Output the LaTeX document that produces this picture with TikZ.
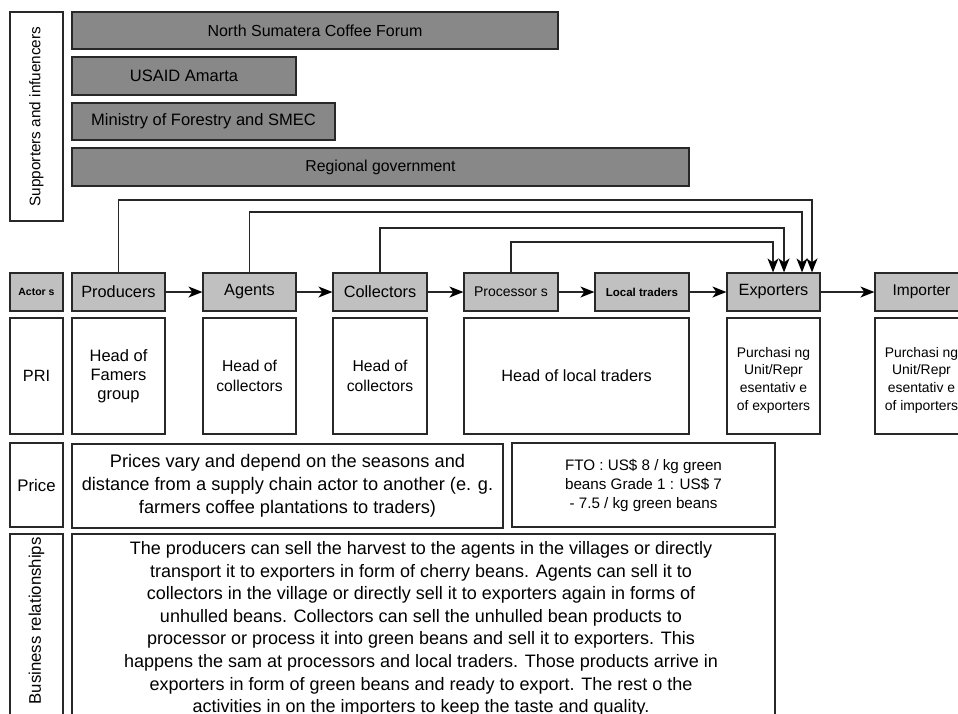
\documentclass[tikz,border=0pt]{standalone}
\usepackage{fontspec}
\setmainfont{Liberation Sans}
\usetikzlibrary{arrows.meta,calc}
\definecolor{supportfill}{RGB}{136,136,136}
\definecolor{actorfill}{RGB}{192,192,192}
\definecolor{edge}{RGB}{40,40,40}
\begin{document}
\begin{tikzpicture}[x=1pt,y=-1pt,
  box/.style={draw=edge,line width=1.2pt,inner sep=2pt,align=center,font=\fontsize{16.3}{19}\selectfont},
  support/.style={box,fill=supportfill},
  actor/.style={box,fill=actorfill,minimum height=38pt},
  plain/.style={box,fill=white},
  flow/.style={draw=black!85,line width=1.3pt,-{Stealth[length=14pt,width=11pt,inset=4pt,color=black]}}]
\useasboundingbox (0,0) rectangle (958,713);
\clip (0,0) rectangle (958,713);
\fill[white] (0,0) rectangle (958,713);

% supporters and influencers
\node[plain,minimum width=53pt,minimum height=209pt] (suplab) at (36.5,116.5) {};
\node[rotate=90,font=\fontsize{15.3}{18}\selectfont] at (suplab.center) {Supporters and infuencers};
\node[support,minimum width=486pt,minimum height=37pt,font=\fontsize{16}{19}\selectfont] (nscf) at (315,30.5) {North Sumatera Coffee Forum};
\node[support,minimum width=224pt,minimum height=38pt,font=\fontsize{16.5}{19}\selectfont] (usaid) at (184,76) {USAID Amarta};
\node[support,minimum width=263pt,minimum height=37pt,font=\fontsize{16.5}{19}\selectfont] (mof) at (203.5,121.5) {Ministry of Forestry and SMEC};
\node[support,minimum width=617pt,minimum height=38pt,font=\fontsize{15.8}{19}\selectfont] (reg) at (380.5,167) {Regional government};

% actors row
\node[actor,minimum width=53pt,font=\bfseries\fontsize{10.5}{12}\selectfont] (actlab) at (36.5,292) {Actor s};
\node[actor,minimum width=93pt] (prod) at (118.5,292) {Producers};
\node[actor,minimum width=93pt] (agt) at (249.5,292) {Agents};
\node[actor,minimum width=94pt] (col) at (380,292) {Collectors};
\node[actor,minimum width=94pt,font=\fontsize{14}{17}\selectfont] (proc) at (511,292) {Processor s};
\node[actor,minimum width=94pt,font=\bfseries\fontsize{11.5}{13}\selectfont] (loc) at (642,292) {Local traders};
\node[actor,minimum width=93pt] (exp) at (773.5,292) {Exporters};
\node[actor,minimum width=93pt,font=\fontsize{15.5}{19}\selectfont] (imp) at (921.5,292) {Importer};

\draw[flow] (prod.east) -- (agt.west);
\draw[flow] (agt.east) -- (col.west);
\draw[flow] (col.east) -- (proc.west);
\draw[flow] (proc.east) -- (loc.west);
\draw[flow] (loc.east) -- (exp.west);
\draw[flow] (exp.east) -- (imp.west);

% direct sales to exporters
\coordinate (e1) at ([xshift=38.5pt]exp.north);
\coordinate (e2) at ([xshift=28.5pt]exp.north);
\coordinate (e3) at ([xshift=10.5pt]exp.north);
\coordinate (e4) at ([xshift=-0.5pt]exp.north);
\draw[flow] (prod.north) |- (e1 |- 0,200) -- (e1);
\draw[flow] (agt.north) |- (e2 |- 0,212) -- (e2);
\draw[flow] (col.north) |- (e3 |- 0,228) -- (e3);
\draw[flow] (proc.north) |- (e4 |- 0,242) -- (e4);

% PRI row
\node[plain,minimum width=53pt,minimum height=116pt] (prilab) at (36.5,376) {PRI};
\node[plain,minimum width=93pt,minimum height=116pt,font=\fontsize{16.5}{19}\selectfont] (pri1) at (118.5,376) {Head of\\Famers\\group};
\node[plain,minimum width=93pt,minimum height=116pt,font=\fontsize{15.7}{20}\selectfont] (pri2) at (249.5,376) {Head of\\collectors};
\node[plain,minimum width=94pt,minimum height=116pt,font=\fontsize{15.7}{20}\selectfont] (pri3) at (380,376) {Head of\\collectors};
\node[plain,minimum width=225pt,minimum height=116pt] (pri4) at (576.5,376) {Head of local traders};
\node[plain,minimum width=93pt,minimum height=116pt] (pri5) at (773.5,376) {};
\node[font=\fontsize{13.9}{17.7}\selectfont,align=center] at (773.5,380) {Purchasi ng\\Unit/Repr\\esentativ e\\of exporters};
\node[plain,minimum width=93pt,minimum height=116pt] (pri6) at (921.5,376) {};
\node[font=\fontsize{13.9}{17.7}\selectfont,align=center] at (921.5,380) {Purchasi ng\\Unit/Repr\\esentativ e\\of importers};

% price row
\node[plain,minimum width=53pt,minimum height=84pt,font=\fontsize{16.8}{19}\selectfont] (pricelab) at (36.5,485) {Price};
\node[plain,minimum width=431pt,minimum height=84pt,font=\fontsize{18.2}{23}\selectfont] (price1) at (287.5,486) {Prices vary and depend on the seasons and\\distance from a supply chain actor to another (e. g.\\farmers coffee plantations to traders)};
\node[plain,minimum width=263pt,minimum height=84pt,font=\fontsize{15.2}{19}\selectfont] (price2) at (643.5,485) {FTO : US\$ 8 / kg green\\beans Grade 1 : US\$ 7\\- 7.5 / kg green beans};

% business relationships row
\node[plain,minimum width=53pt,minimum height=226pt] (buslab) at (36.5,647) {};
\node[rotate=90,font=\fontsize{16.8}{19}\selectfont,anchor=west] at (36.5,708) {Business relationships};
\node[plain,minimum width=703pt,minimum height=226pt] (bus) at (423.5,647) {};
\node[anchor=north,align=center,font=\fontsize{18}{22.6}\selectfont] (bustext) at (421,538) {The producers can sell the harvest to the agents in the villages or directly\\transport it to exporters in form of cherry beans. Agents can sell it to\\collectors in the village or directly sell it to exporters again in forms of\\unhulled beans. Collectors can sell the unhulled bean products to\\processor or process it into green beans and sell it to exporters. This\\happens the sam at processors and local traders. Those products arrive in\\exporters in form of green beans and ready to export. The rest o the\\activities in on the importers to keep the taste and quality.};
\end{tikzpicture}
\end{document}
